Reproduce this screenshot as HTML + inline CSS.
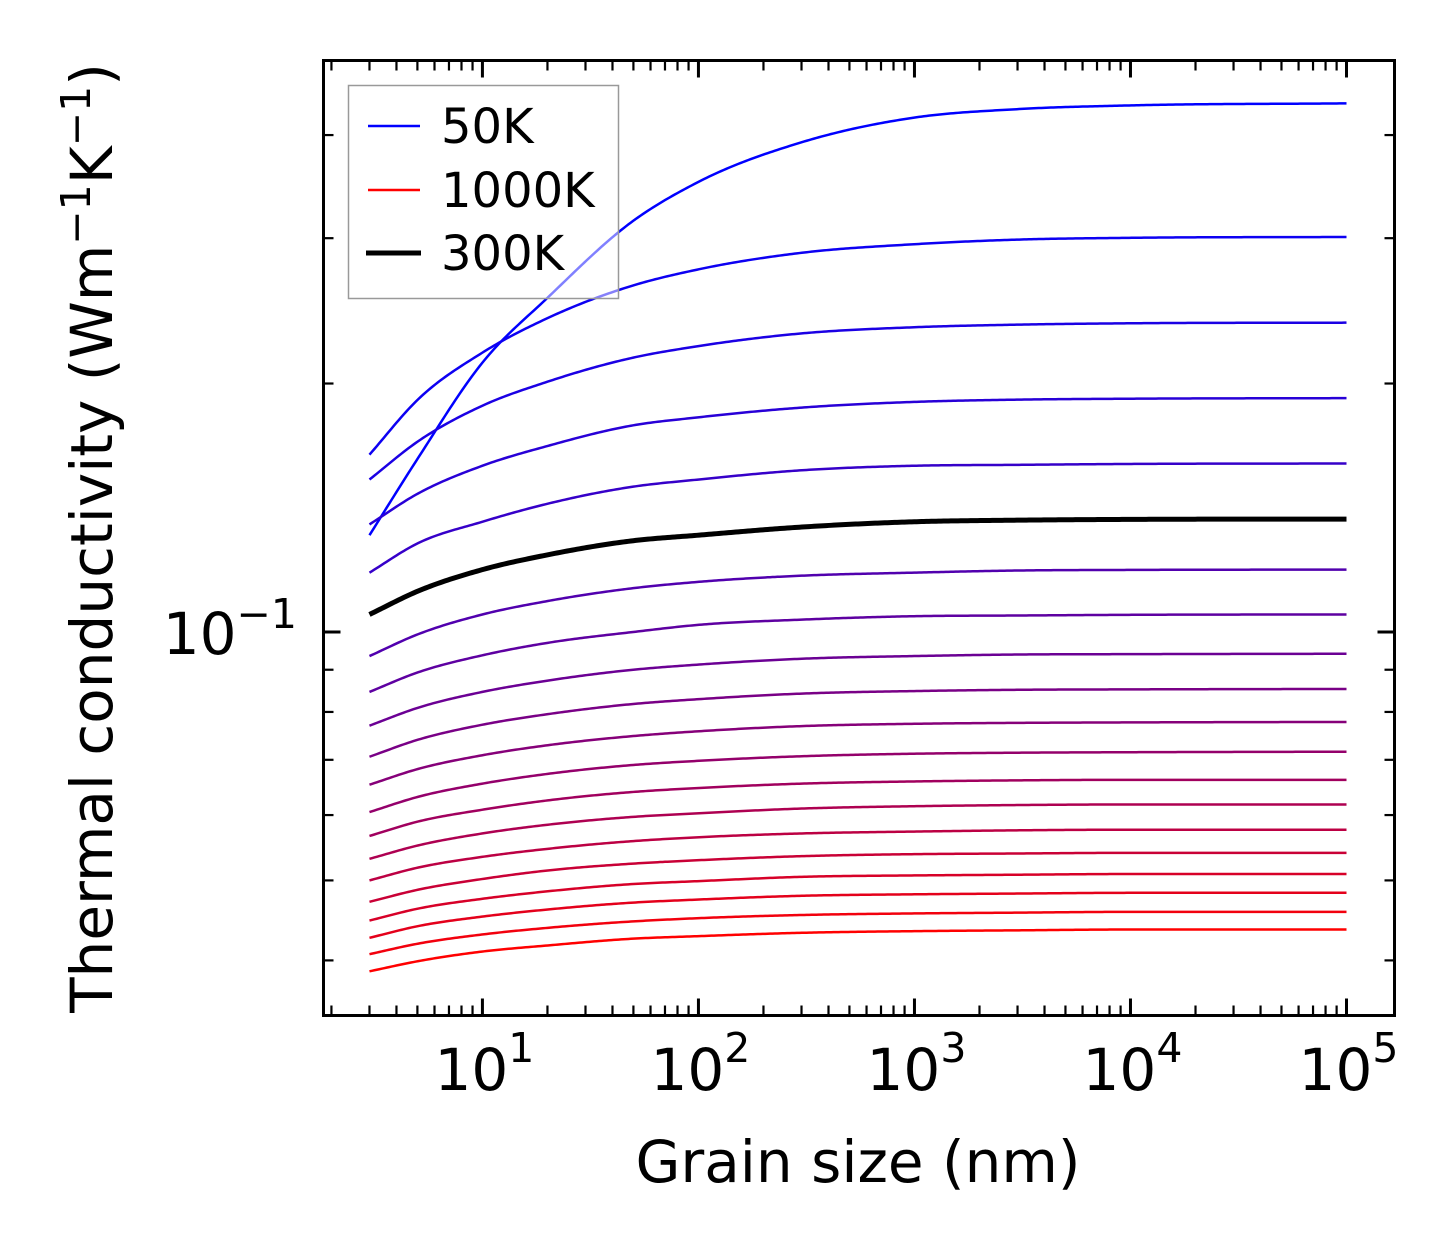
<!DOCTYPE html>
<html><head><meta charset="utf-8"><style>
html,body{margin:0;padding:0;background:#fff;}
svg{display:block;font-family:"DejaVu Sans","Liberation Sans",sans-serif;}
</style></head><body>
<svg id="chart" width="1454" height="1254" viewBox="0 0 1454 1254" xmlns="http://www.w3.org/2000/svg">
<rect x="0" y="0" width="1454" height="1254" fill="#fff"/>
<g id="ticks"></g>
<g id="lines"></g>
<g id="legend">
  <rect x="348.5" y="85.5" width="270" height="213" fill="#fff" fill-opacity="0.5" stroke="#999" stroke-width="1.5"/>
  <line x1="368" y1="126" x2="420" y2="126" stroke="#0000ff" stroke-width="2.5"/>
  <text x="441" y="143" font-size="48">50K</text>
  <line x1="368" y1="190" x2="420" y2="190" stroke="#ff0000" stroke-width="2.5"/>
  <text x="441" y="207" font-size="48">1000K</text>
  <line x1="366" y1="253" x2="421" y2="253" stroke="#000" stroke-width="5"/>
  <text x="441" y="270" font-size="48">300K</text>
</g>
<rect x="323.5" y="60.5" width="1071" height="955" fill="none" stroke="#000" stroke-width="3"/>
<g id="xlabels"></g>
<text x="858" y="1182" font-size="58" text-anchor="middle">Grain size (nm)</text>
<text transform="translate(112,538) rotate(-90)" font-size="58" text-anchor="middle">Thermal conductivity (Wm<tspan dy="-22" font-size="41">−1</tspan><tspan dy="22">K</tspan><tspan dy="-22" font-size="41">−1</tspan><tspan dy="22">)</tspan></text>
</svg>
<script>
const grainSizes = [3, 5, 10, 20, 50, 100, 300, 1000, 3000, 10000, 100000];
const temperatures = [50,100,150,200,250,300,350,400,450,500,550,600,650,700,750,800,850,900,950,1000];
const k50 = [0.131,0.162,0.212,0.254,0.315,0.351,0.392,0.420,0.430,0.4345,0.437];
const k100 = [0.164,0.191,0.218,0.240,0.263,0.275,0.288,0.295,0.2988,0.3003,0.301];
const k150 = [0.153,0.170,0.188,0.201,0.215,0.222,0.230,0.234,0.2357,0.2366,0.237];
const k200 = [0.135,0.147,0.159,0.168,0.178,0.182,0.187,0.190,0.1912,0.1917,0.192];
const k250 = [0.118,0.128,0.136,0.143,0.150,0.153,0.157,0.159,0.1594,0.1598,0.160];
const k300 = [0.105,0.112,0.119,0.124,0.129,0.131,0.134,0.136,0.1366,0.1369,0.137];
const k350 = [0.0935,0.0993,0.105,0.109,0.113,0.115,0.117,0.118,0.1187,0.1189,0.119];
const k400 = [0.0846,0.0893,0.0937,0.0970,0.100,0.102,0.1035,0.1045,0.1047,0.1049,0.105];
const k450 = [0.0770,0.0809,0.0846,0.0873,0.0900,0.0913,0.0928,0.0935,0.0939,0.0940,0.0941];
const k500 = [0.0706,0.0740,0.0772,0.0795,0.0818,0.0829,0.0842,0.0848,0.0851,0.0852,0.0853];
const k550 = [0.0653,0.0682,0.0709,0.0729,0.0748,0.0758,0.0769,0.0774,0.0776,0.0777,0.0778];
const k600 = [0.0605,0.0631,0.0655,0.0673,0.0690,0.0698,0.0707,0.0712,0.0714,0.0715,0.0716];
const k650 = [0.0566,0.0589,0.0609,0.0625,0.0640,0.0647,0.0655,0.0659,0.0661,0.0662,0.0662];
const k700 = [0.0531,0.0551,0.0570,0.0584,0.0597,0.0603,0.0611,0.0615,0.0617,0.0618,0.0618];
const k750 = [0.0500,0.0518,0.0534,0.0546,0.0558,0.0564,0.0570,0.0573,0.0575,0.0576,0.0576];
const k800 = [0.0471,0.0487,0.0502,0.0514,0.0524,0.0529,0.0535,0.0538,0.0539,0.0540,0.0540];
const k850 = [0.0447,0.0462,0.0475,0.0485,0.0495,0.0499,0.0505,0.0507,0.0508,0.0509,0.0509];
const k900 = [0.0426,0.0440,0.0452,0.0461,0.0470,0.0474,0.0479,0.0481,0.0482,0.0483,0.0483];
const k950 = [0.0407,0.0419,0.0430,0.0438,0.0446,0.0450,0.0454,0.0456,0.0457,0.0458,0.0458];
const k1000 = [0.0388,0.0399,0.0410,0.0417,0.0425,0.0428,0.0432,0.0434,0.0435,0.0436,0.0436];
const series = [k50,k100,k150,k200,k250,k300,k350,k400,k450,k500,k550,k600,k650,k700,k750,k800,k850,k900,k950,k1000];
const xMajorTicks = [10, 100, 1000, 10000, 100000];
const xTickLabels = ["1","2","3","4","5"];
const yMinorTicks = [0.04,0.05,0.06,0.07,0.08,0.09,0.2,0.3,0.4];
const yMajorTicks = [0.1];

const NS = "http://www.w3.org/2000/svg";
const X0 = 323.5, X1 = 1394.5, Y0 = 60.5, Y1 = 1015.5;
const xLogMin = 0.2643, xLogMax = 5.2222;
const yLogMin = Math.log10(0.0343), yLogMax = Math.log10(0.4925);
function xsL(l){ return X0 + (l - xLogMin) / (xLogMax - xLogMin) * (X1 - X0); }
function ysL(l){ return Y1 - (l - yLogMin) / (yLogMax - yLogMin) * (Y1 - Y0); }
function xs(v){ return xsL(Math.log10(v)); }
function ys(v){ return ysL(Math.log10(v)); }

function mk(tag, attrs, parent){ const e = document.createElementNS(NS, tag); for (const k in attrs) e.setAttribute(k, attrs[k]); parent.appendChild(e); return e; }

const tg = document.getElementById('ticks');
for (let d = 0; d <= 5; d++) {
  for (let m = 1; m <= 9; m++) {
    const v = m * Math.pow(10, d);
    const lv = Math.log10(v);
    if (lv < xLogMin || lv > xLogMax) continue;
    const x = xs(v);
    const len = (m === 1) ? 17 : 10;
    const w = (m === 1) ? 3 : 2.2;
    const b = mk('line', {x1:x, y1:Y1, x2:x, y2:Y1-len, stroke:'#000', 'stroke-width':w}, tg);
    
    
    const t = mk('line', {x1:x, y1:Y0, x2:x, y2:Y0+len, stroke:'#000', 'stroke-width':w}, tg);
    
    
  }
}
yMinorTicks.forEach(v => {
  const y = ys(v);
  const l = mk('line', {x1:X0, y1:y, x2:X0+10, y2:y, stroke:'#000', 'stroke-width':2.2}, tg);
  
  
  const r = mk('line', {x1:X1, y1:y, x2:X1-10, y2:y, stroke:'#000', 'stroke-width':2.2}, tg);
  
  
});
yMajorTicks.forEach(v => {
  const y = ys(v);
  const l = mk('line', {x1:X0, y1:y, x2:X0+17, y2:y, stroke:'#000', 'stroke-width':3}, tg);
  
  
  const r = mk('line', {x1:X1, y1:y, x2:X1-17, y2:y, stroke:'#000', 'stroke-width':3}, tg);
  
  
  const t = mk('text', {x:297, y:y+22, 'font-size':58, 'text-anchor':'end'}, tg);
  
  
  t.innerHTML = '10<tspan dy="-26" font-size="41">−1</tspan>';
});
const xl = document.getElementById('xlabels');
xMajorTicks.forEach((v, i) => {
  const x = xs(v);
  const t = mk('text', {x:x+2, y:1090, 'font-size':58, 'text-anchor':'middle'}, xl);
  
  
  t.innerHTML = '10<tspan dy="-28" font-size="41">' + xTickLabels[i] + '</tspan>';
});

// monotone cubic interpolation in log-log space
function pathFor(vals){
  const X = grainSizes.map(g => Math.log10(g));
  const Y = vals.map(v => Math.log10(v));
  const n = X.length;
  const dl = [], h = [];
  for (let i = 0; i < n-1; i++) { h.push(X[i+1]-X[i]); dl.push((Y[i+1]-Y[i])/h[i]); }
  const m = new Array(n);
  m[0] = dl[0]; m[n-1] = dl[n-2];
  for (let i = 1; i < n-1; i++) {
    if (dl[i-1]*dl[i] <= 0) m[i] = 0;
    else m[i] = (dl[i-1]*h[i] + dl[i]*h[i-1]) / (h[i] + h[i-1]);
  }
  let d = '';
  const N = 400;
  for (let k = 0; k <= N; k++) {
    const lx = X[0] + (X[n-1]-X[0]) * k / N;
    let i = 0; while (i < n-2 && lx > X[i+1]) i++;
    const t = (lx - X[i]) / h[i];
    const t2 = t*t, t3 = t2*t;
    const ly = (2*t3-3*t2+1)*Y[i] + (t3-2*t2+t)*h[i]*m[i] + (-2*t3+3*t2)*Y[i+1] + (t3-t2)*h[i]*m[i+1];
    d += (k ? ' L' : 'M') + xsL(lx).toFixed(2) + ',' + ysL(ly).toFixed(2);
  }
  return d;
}
const lg = document.getElementById('lines');
const order = series.map((s, i) => i).filter(i => temperatures[i] !== 300);
order.push(temperatures.indexOf(300));
order.forEach(i => {
  const T = temperatures[i];
  const t = (T - 50) / 950;
  const col = T === 300 ? '#000' : 'rgb(' + Math.round(255*t) + ',0,' + Math.round(255*(1-t)) + ')';
  const p = mk('path', {d: pathFor(series[i]), fill:'none', stroke:col, 'stroke-width': T === 300 ? 5 : 2.5, 'stroke-linejoin':'round'}, lg);
  
  
});
</script>
</body></html>
